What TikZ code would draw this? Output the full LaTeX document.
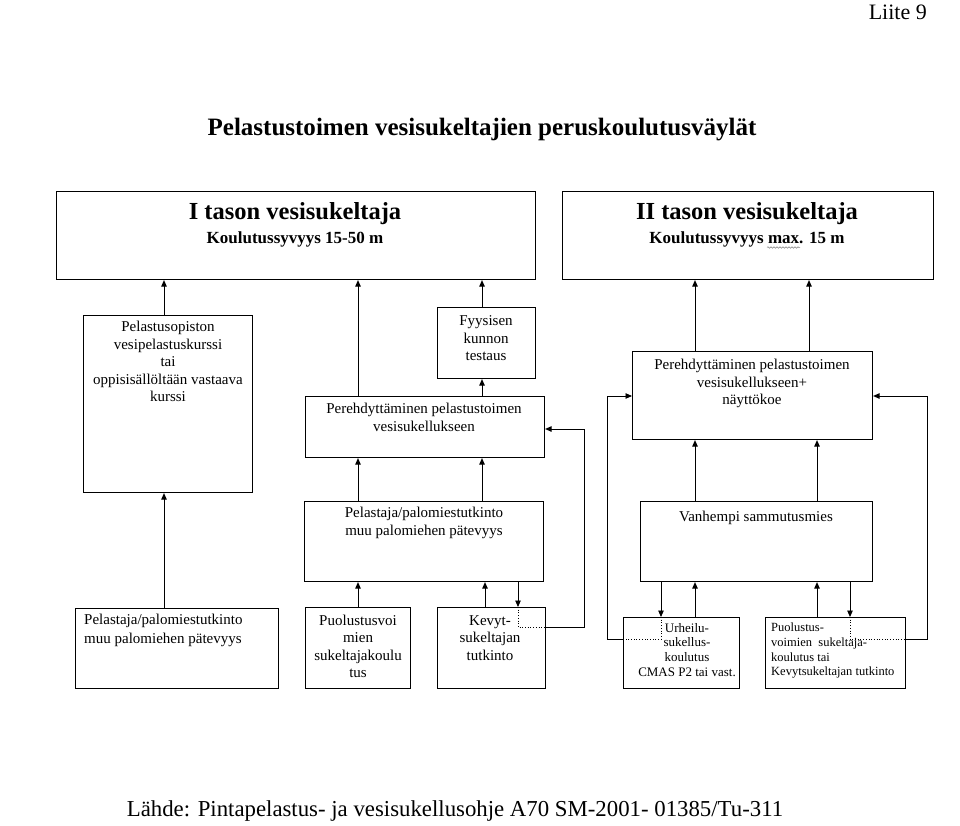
\documentclass[tikz,border=0pt]{standalone}
\usepackage{fontspec}
\setmainfont{Liberation Serif}
\usetikzlibrary{arrows.meta,decorations.pathmorphing}
\tikzset{
  box/.style={draw, line width=1.1pt, rectangle, inner sep=0pt, anchor=north west},
  arr/.style={line width=0.9pt, -{Triangle[length=6.5pt,width=5.5pt]}},
  ln/.style={line width=0.9pt},
  dot/.style={line width=0.7pt, dotted},
  txt/.style={inner sep=0pt, anchor=north, align=center, font=\fontsize{15}{17.5}\selectfont},
  txtl/.style={inner sep=0pt, anchor=north west, align=left, font=\fontsize{15}{19}\selectfont},
  small/.style={inner sep=0pt, anchor=north, align=center, font=\fontsize{13}{14.7}\selectfont},
  smalll/.style={inner sep=0pt, anchor=north west, align=left, font=\fontsize{12.5}{14.7}\selectfont},
  head/.style={inner sep=0pt, anchor=base, font=\bfseries\fontsize{24.5}{28}\selectfont},
  subhead/.style={inner sep=0pt, anchor=base, font=\bfseries\fontsize{17}{20}\selectfont},
  squiggle/.style={gray, line width=0.5pt, decorate, decoration={snake, amplitude=0.8pt, segment length=3pt}},
}
\newcommand{\bx}[5]{\node[box, minimum width=#4-#2, minimum height=#5-#3] (#1) at (#2,#3) {};}
\begin{document}
\begin{tikzpicture}[x=1pt,y=-1pt]
\useasboundingbox (0,0) rectangle (960,825);
% titles
\node[inner sep=0pt, anchor=base east, font=\fontsize{22}{24}\selectfont] (liite) at (927,19) {Liite 9};
\node[inner sep=0pt, anchor=base, font=\bfseries\fontsize{25}{28}\selectfont] (title) at (482,135) {Pelastustoimen vesisukeltajien peruskoulutusväylät};
\node[inner sep=0pt, anchor=base, font=\fontsize{22.8}{26}\selectfont] (src) at (455,816) {Lähde: Pintapelastus- ja vesisukellusohje A70 SM-2001- 01385/Tu-311};
% boxes
\bx{boxI}{56}{191}{535}{279}
\bx{boxII}{562}{191}{933}{279}
\bx{pelop}{83}{315}{252}{492}
\bx{fyys}{437}{307}{535}{378}
\bx{perL}{305}{396}{544}{457}
\bx{perR}{632}{351}{872}{439}
\bx{pelM}{304}{501}{543}{581}
\bx{vanh}{640}{501}{872}{581}
\bx{pelB}{75}{608}{278}{688}
\bx{puol}{305}{607}{410}{688}
\bx{kevyt}{437}{607}{545}{688}
\bx{urh}{623}{617}{739}{688}
\bx{pv}{765}{617}{905}{688}
% texts
\node[head] (tI) at (295,219) {I tason vesisukeltaja};
\node[subhead] (sI) at (295,243) {Koulutussyvyys 15-50 m};
\node[head] (tII) at (747,219) {II tason vesisukeltaja};
\node[subhead] (sII) at (747,243) {Koulutussyvyys max. 15 m};
\draw[squiggle] (767,247.5) -- (800,247.5);
\node[txt] (xpelop) at (168,321) {Pelastusopiston\\vesipelastuskurssi\\tai\\oppisisällöltään vastaava\\kurssi};
\node[txt] (xfyys) at (486,315.5) {Fyysisen\\kunnon\\testaus};
\node[txt] (xperL) at (424,403) {Perehdyttäminen pelastustoimen\\vesisukellukseen};
\node[txt] (xperR) at (752,359) {Perehdyttäminen pelastustoimen\\vesisukellukseen+\\näyttökoe};
\node[txt] (xpelM) at (424,507) {Pelastaja/palomiestutkinto\\muu palomiehen pätevyys};
\node[txt] (xvanh) at (756,511) {Vanhempi sammutusmies};
\node[txtl] (xpelB) at (84,614) {Pelastaja/palomiestutkinto\\muu palomiehen pätevyys};
\node[txt] (xpuol) at (358,614.5) {Puolustusvoi\\mien\\sukeltajakoulu\\tus};
\node[txt] (xkevyt) at (490,615) {Kevyt-\\sukeltajan\\tutkinto};
\node[small] (xurh) at (687,623) {Urheilu-\\sukellus-\\koulutus\\CMAS P2 tai vast.};
\node[smalll] (xpv) at (771,623) {Puolustus-\\voimien~~sukeltaja-\\koulutus tai\\Kevytsukeltajan tutkinto};
% column / row coordinates
\coordinate (c164) at (164,0);
\coordinate (c358) at (358,0);
\coordinate (c482) at (482,0);
\coordinate (c485) at (485,0);
\coordinate (c518) at (518,0);
\coordinate (c584) at (584,0);
\coordinate (c607) at (607,0);
\coordinate (c661) at (661,0);
\coordinate (c695) at (695,0);
\coordinate (c809) at (809,0);
\coordinate (c817) at (817,0);
\coordinate (c850) at (850,0);
\coordinate (c927) at (927,0);
\coordinate (r429) at (0,429);
\coordinate (r627) at (0,627);
\coordinate (r396) at (0,396);
\coordinate (r639) at (0,639);
% left column
\draw[arr] (pelop.north -| c164) -- (boxI.south -| c164);
\draw[arr] (pelB.north -| c164) -- (pelop.south -| c164);
\draw[arr] (perL.north -| c358) -- (boxI.south -| c358);
\draw[arr] (fyys.north -| c482) -- (boxI.south -| c482);
\draw[arr] (perL.north -| c482) -- (fyys.south -| c482);
\draw[arr] (pelM.north -| c358) -- (perL.south -| c358);
\draw[arr] (pelM.north -| c482) -- (perL.south -| c482);
\draw[arr] (puol.north -| c358) -- (pelM.south -| c358);
\draw[arr] (kevyt.north -| c485) -- (pelM.south -| c485);
\draw[arr] (pelM.south -| c518) -- (kevyt.north -| c518);
\coordinate (kd) at (c518 |- r627);
\draw[dot] (kevyt.north -| c518) -- (kd) -- (kevyt.east |- r627);
\draw[ln] (kevyt.east |- r627) -- (c584 |- r627) -- (c584 |- r429);
\draw[arr] (c584 |- r429) -- (perL.east |- r429);
% right column
\draw[arr] (perR.north -| c695) -- (boxII.south -| c695);
\draw[arr] (perR.north -| c809) -- (boxII.south -| c809);
\draw[arr] (vanh.north -| c695) -- (perR.south -| c695);
\draw[arr] (vanh.north -| c817) -- (perR.south -| c817);
\draw[arr] (vanh.south -| c661) -- (urh.north -| c661);
\draw[arr] (urh.north -| c695) -- (vanh.south -| c695);
\draw[arr] (pv.north -| c817) -- (vanh.south -| c817);
\draw[arr] (vanh.south -| c850) -- (pv.north -| c850);
\coordinate (ud) at (c661 |- r639);
\draw[dot] (urh.north -| c661) -- (ud) -- (urh.west |- r639);
\draw[ln] (urh.west |- r639) -- (c607 |- r639) -- (c607 |- r396);
\draw[arr] (c607 |- r396) -- (perR.west |- r396);
\coordinate (pd) at (c850 |- r639);
\draw[dot] (pv.north -| c850) -- (pd) -- (pv.east |- r639);
\draw[ln] (pv.east |- r639) -- (c927 |- r639) -- (c927 |- r396);
\draw[arr] (c927 |- r396) -- (perR.east |- r396);
\end{tikzpicture}
\end{document}
